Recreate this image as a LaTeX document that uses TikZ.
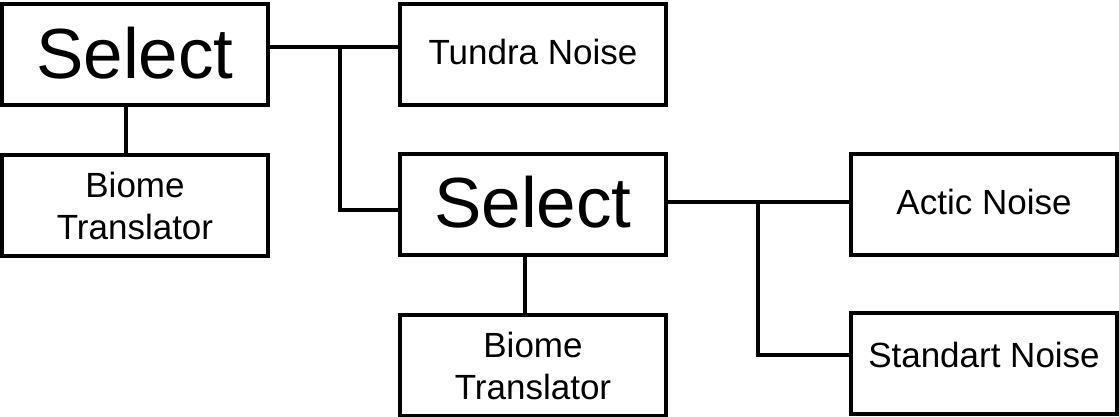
\documentclass[tikz,border=0pt]{standalone}
\usepackage{fontspec}
\setmainfont{Liberation Sans}
\usetikzlibrary{positioning}

\begin{document}
\begin{tikzpicture}[
    x=1pt, y=1pt,
    block/.style={draw, line width=4pt, rectangle,
        minimum width=266pt, minimum height=101pt, inner sep=0pt},
    bigblock/.style={block, font=\fontsize{71}{71}\selectfont},
    smallblock/.style={block, align=center,
        font=\fontsize{35}{42}\selectfont},
    wire/.style={line width=4pt}
  ]
    \useasboundingbox (0,0) rectangle (1119,417);

    \node[bigblock, text depth=5pt] (sel-root) at (135,362) {Select};
    \node[smallblock, text depth=6pt] (tundra) at (533,362) {Tundra Noise};
    \node[smallblock] (biome-root) at (135,211) {Biome\\Translator};
    \node[bigblock, text depth=6pt] (sel-sub) at (533,212) {Select};
    \node[smallblock] (biome-sub) at (533,51) {Biome\\Translator};
    \node[smallblock, text depth=6pt] (actic) at (984,212) {Actic Noise};
    \node[smallblock, text depth=18pt] (standart) at (984,53) {Standart Noise};

    \coordinate (fork-root) at (340,370);
    \coordinate (fork-sub) at (758,215);

    \draw[wire] ([yshift=8pt]sel-root.east) -- ([yshift=8pt]tundra.west);
    \draw[wire] (fork-root) |- ([yshift=-5pt]sel-sub.west);
    \draw[wire] ([xshift=-9pt]sel-root.south) -- ([xshift=-9pt]biome-root.north);

    \draw[wire] ([yshift=3pt]sel-sub.east) -- ([yshift=3pt]actic.west);
    \draw[wire] (fork-sub) |- ([yshift=9pt]standart.west);
    \draw[wire] ([xshift=-8pt]sel-sub.south) -- ([xshift=-8pt]biome-sub.north);
\end{tikzpicture}
\end{document}
